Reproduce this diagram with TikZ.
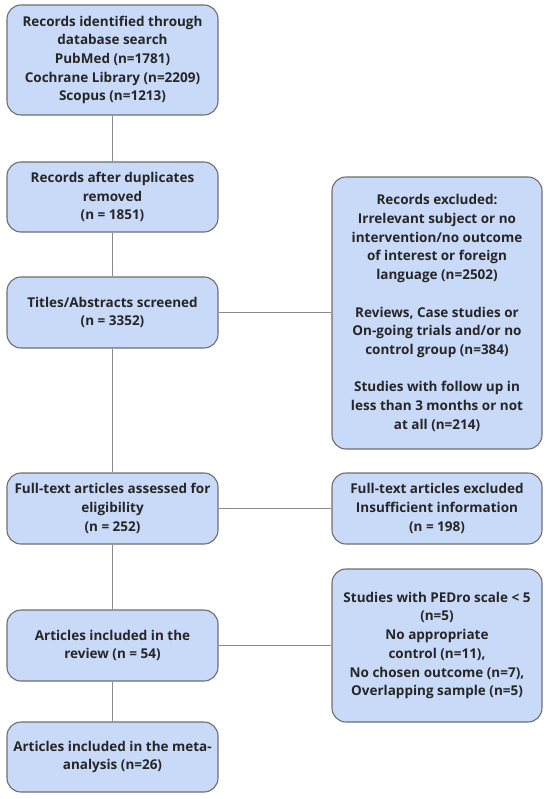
\documentclass[tikz,border=0pt]{standalone}
\usepackage{fontspec}
\setmainfont{Open Sans}
\definecolor{boxfill}{HTML}{C9DAF8}
\definecolor{boxdraw}{HTML}{6E6E6E}
\definecolor{linecol}{HTML}{8A8A8A}
\definecolor{txt}{HTML}{262626}
\begin{document}
\begin{tikzpicture}[x=1pt,y=1pt,
  fbox/.style={draw=boxdraw, line width=1.1pt, fill=boxfill, rounded corners=14pt,
    minimum width=211pt, inner sep=0pt, align=center, text=txt,
    font=\fontsize{13.5}{18.7}\selectfont\bfseries},
  conn/.style={draw=linecol, line width=1.4pt}]
\useasboundingbox (0,0) rectangle (550,-799);
\node[fbox, minimum height=110pt] (b1) at (112.5,-60) {Records identified through\\database search\\PubMed (n=1781)\\Cochrane Library (n=2209)\\Scopus (n=1213)};
\node[fbox, minimum height=70pt] (b2) at (112.5,-197) {Records after duplicates\\removed\\(n = 1851)};
\node[fbox, minimum height=71pt] (b3) at (112.5,-312.5) {Titles/Abstracts screened\\(n = 3352)};
\node[fbox, minimum height=71pt] (b4) at (112.5,-508.5) {Full-text articles assessed for\\eligibility\\(n = 252)};
\node[fbox, minimum height=71pt] (b5) at (112.5,-645.5) {Articles included in the\\review (n = 54)};
\node[fbox, minimum height=70pt] (b6) at (112.5,-757) {Articles included in the meta-\\analysis (n=26)};
\node[fbox, minimum width=210pt, minimum height=272pt] (r1) at (437,-313) {Records excluded:\\Irrelevant subject or no\\intervention/no outcome\\of interest or foreign\\language (n=2502)\\[18.7pt]Reviews, Case studies or\\On-going trials and/or no\\control group (n=384)\\[18.7pt]Studies with follow up in\\less than 3 months or not\\at all (n=214)};
\node[fbox, minimum width=210pt, minimum height=71pt] (r2) at (437,-508.5) {Full-text articles excluded\\Insufficient information\\(n = 198)};
\node[fbox, minimum width=210pt, minimum height=153pt] (r3) at (437,-645.5) {Studies with PEDro scale < 5\\(n=5)\\No appropriate\\control (n=11),\\No chosen outcome (n=7),\\Overlapping sample (n=5)};
\draw[conn] (b1) -- (b2);
\draw[conn] (b2) -- (b3);
\draw[conn] (b3) -- (b4);
\draw[conn] (b4) -- (b5);
\draw[conn] (b5) -- (b6);
\draw[conn] (b3) -- (r1.west |- b3);
\draw[conn] (b4) -- (r2);
\draw[conn] (b5) -- (r3.west |- b5);
\end{tikzpicture}
\end{document}
